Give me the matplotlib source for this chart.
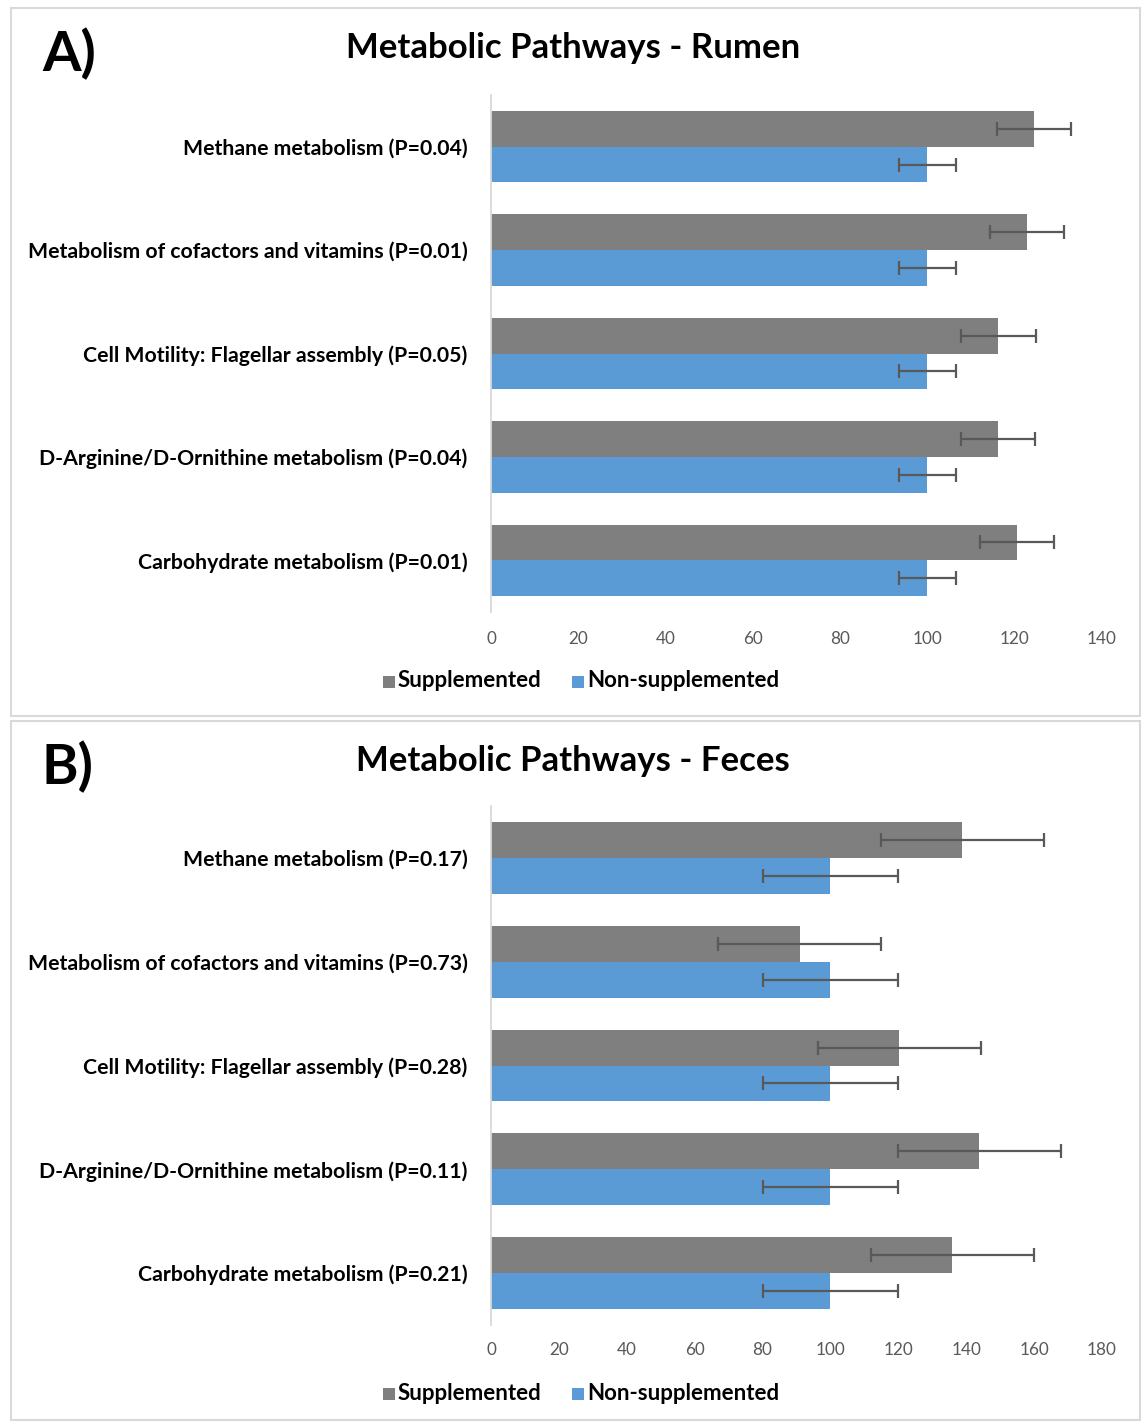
import matplotlib
matplotlib.use("Agg")
import matplotlib.pyplot as plt
from matplotlib.patches import Rectangle
import numpy as np

categories = [
    "Methane metabolism (P={})",
    "Metabolism of cofactors and vitamins (P={})",
    "Cell Motility: Flagellar assembly (P={})",
    "D-Arginine/D-Ornithine metabolism (P={})",
    "Carbohydrate metabolism (P={})",
]
p_rumen = ["0.04", "0.01", "0.05", "0.04", "0.01"]
p_feces = ["0.17", "0.73", "0.28", "0.11", "0.21"]

rumen_supp = [124.5, 122.9, 116.2, 116.2, 120.6]
rumen_supp_err = [8.5, 8.5, 8.6, 8.5, 8.5]
rumen_non = [100, 100, 100, 100, 100]
rumen_non_err = [6.5, 6.5, 6.5, 6.5, 6.5]

feces_supp = [138.8, 90.9, 120.3, 143.8, 135.9]
feces_supp_err = [24, 24, 24, 24, 24]
feces_non = [100, 100, 100, 100, 100]
feces_non_err = [20, 20, 20, 20, 20]

ticks_rumen = [0, 20, 40, 60, 80, 100, 120, 140]
ticks_feces = [0, 20, 40, 60, 80, 100, 120, 140, 160, 180]

GRAY = "#7f7f7f"
BLUE = "#5b9bd5"
ERR = "#595959"
FONT = ["Lato", "DejaVu Sans"]

W, H = 1143, 1423
fig = plt.figure(figsize=(W / 100, H / 100), dpi=100)


def fx(px):
    return px / W


def fy(py):
    return 1 - py / H


def panel(box, ax_rect, letter, title, ptxt, supp, supp_err, non, non_err, ticks, xmax, tick_y, leg_y):
    bx0, by0, bx1, by1 = box
    fig.patches.append(Rectangle((fx(bx0), fy(by1)), fx(bx1 - bx0), (by1 - by0) / H,
                                 transform=fig.transFigure, facecolor="none",
                                 edgecolor="#d9d9d9", linewidth=1.5))
    l, t, r, b = ax_rect
    ax = fig.add_axes([fx(l), fy(b), fx(r - l), (b - t) / H])
    y = np.arange(len(categories))
    h = 0.345
    ax.barh(y - h / 2, supp, height=h, color=GRAY, xerr=supp_err,
            error_kw=dict(ecolor=ERR, elinewidth=1.6, capsize=5, capthick=1.6), zorder=2)
    ax.barh(y + h / 2, non, height=h, color=BLUE, xerr=non_err,
            error_kw=dict(ecolor=ERR, elinewidth=1.6, capsize=5, capthick=1.6), zorder=2)
    ax.set_ylim(len(categories) - 0.5, -0.5)
    ax.set_xlim(0, xmax)
    ax.set_yticks(y)
    ax.set_yticklabels([c.format(p) for c, p in zip(categories, ptxt)],
                       fontsize=15.3, fontweight="bold", family=FONT, color="black")
    ax.set_xticks(ticks)
    ax.set_xticklabels([str(t) for t in ticks], fontsize=12.3, family=FONT, color="#595959")
    ax.tick_params(axis="both", length=0)
    ax.tick_params(axis="x", pad=(tick_y - b - 9) * 0.72)
    ax.tick_params(axis="y", pad=17)
    for s in ["top", "right", "bottom"]:
        ax.spines[s].set_visible(False)
    ax.spines["left"].set_color("#d9d9d9")
    ax.spines["left"].set_linewidth(1.3)
    # labels
    fig.text(fx(bx0 + 31), fy(by0 + 46), letter, fontsize=40, fontweight="bold",
             family=FONT, ha="left", va="center")
    fig.text(fx(573), fy(by0 + 40), title, fontsize=25, fontweight="bold",
             family=FONT, ha="center", va="center")
    # legend
    for xs, lab, col in [(383, "Supplemented", GRAY), (572, "Non-supplemented", BLUE)]:
        fig.patches.append(Rectangle((fx(xs), fy(leg_y + 7)), fx(12), 12 / H,
                                     transform=fig.transFigure, facecolor=col, edgecolor="none"))
        fig.text(fx(xs + 15), fy(leg_y), lab, fontsize=16, fontweight="bold",
                 family=FONT, ha="left", va="center")
    return ax


panel((11, 8, 1140, 716), (491, 95, 1102, 612), "A)", "Metabolic Pathways - Rumen",
      p_rumen, rumen_supp, rumen_supp_err, rumen_non, rumen_non_err, ticks_rumen, 140, 640, 681)
panel((11, 721, 1140, 1420), (491, 806, 1102, 1325), "B)", "Metabolic Pathways - Feces",
      p_feces, feces_supp, feces_supp_err, feces_non, feces_non_err, ticks_feces, 180, 1351, 1393)

fig.savefig("out.png", dpi=100, facecolor="white")
